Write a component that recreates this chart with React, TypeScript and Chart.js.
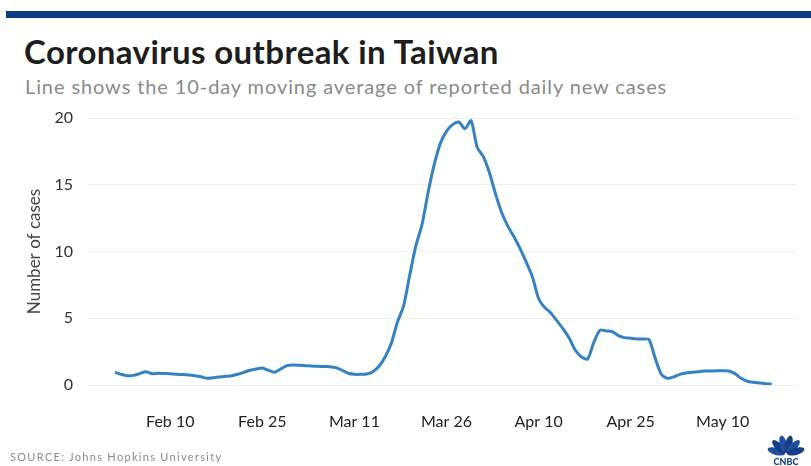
import React, { useEffect, useRef } from "react";
import { Chart, registerables } from "chart.js";

Chart.register(...registerables);

// Day index 0 = Feb 1, 2020; one value per day through May 18.
const START_LABEL = "Feb 1";
const MOVING_AVG: number[] = [
  0.95, 0.8, 0.7, 0.72, 0.85, 1.0, 0.85, 0.88, 0.86, 0.84,
  0.8, 0.78, 0.75, 0.7, 0.62, 0.5, 0.55, 0.6, 0.65, 0.7,
  0.8, 0.95, 1.1, 1.2, 1.27, 1.1, 0.95, 1.2, 1.45, 1.5,
  1.48, 1.45, 1.42, 1.4, 1.38, 1.37, 1.3, 1.1, 0.88, 0.8,
  0.8, 0.83, 1.0, 1.4, 2.1, 3.1, 4.7, 5.9, 8.2, 10.4,
  12.0, 14.4, 16.5, 18.1, 19.0, 19.5, 19.7, 19.2, 19.8, 17.8,
  17.1, 15.9, 14.3, 12.9, 11.9, 11.1, 10.2, 9.2, 8.1, 6.5,
  5.8, 5.4, 4.8, 4.2, 3.5, 2.6, 2.1, 1.95, 3.2, 4.1,
  4.05, 4.0, 3.7, 3.55, 3.5, 3.45, 3.45, 3.4, 2.0, 0.8,
  0.5, 0.6, 0.8, 0.9, 0.95, 1.0, 1.05, 1.05, 1.06, 1.06,
  1.05, 0.85, 0.5, 0.28, 0.2, 0.15, 0.1, 0.05,
];

// Dated x-axis ticks (day index from Feb 1) and their labels.
const TICK_DAYS: number[] = [9, 24, 39, 54, 69, 84, 99];
const TICK_LABELS: string[] = ["Feb 10", "Feb 25", "Mar 11", "Mar 26", "Apr 10", "Apr 25", "May 10"];
const Y_TICKS: number[] = [0, 5, 10, 15, 20];

const TITLE = "Coronavirus outbreak in Taiwan";
const SUBTITLE = "Line shows the 10-day moving average of reported daily new cases";
const SOURCE = "SOURCE: Johns Hopkins University";

const FONT = "Lato, 'Open Sans', sans-serif";

function Peacock() {
  const feathers = [-75, -45, -15, 15, 45, 75];
  return (
    <svg width={46} height={36} viewBox="0 0 46 36" style={{ position: "absolute", left: 763, top: 431 }}>
      {feathers.map((a, i) => (
        <ellipse
          key={i}
          cx={23}
          cy={13}
          rx={3.6}
          ry={9}
          fill={i % 2 === 0 ? "#1f4f9e" : "#163d85"}
          transform={`rotate(${a} 23 23)`}
        />
      ))}
      <text x={23} y={34} textAnchor="middle" fontFamily={FONT} fontWeight={900} fontSize={9} fill="#163d85">
        CNBC
      </text>
    </svg>
  );
}

export default function App() {
  const canvasRef = useRef<HTMLCanvasElement | null>(null);

  useEffect(() => {
    if (!canvasRef.current) return;
    const chart = new Chart(canvasRef.current, {
      type: "line",
      data: {
        datasets: [
          {
            label: `10-day moving average from ${START_LABEL}`,
            data: MOVING_AVG.map((v, i) => ({ x: i, y: v })),
            borderColor: "#3482c3",
            borderWidth: 3,
            pointRadius: 0,
            tension: 0.25,
            fill: false,
          },
        ],
      },
      options: {
        responsive: false,
        animation: false,
        layout: { padding: { left: 24, right: 14, top: 118, bottom: 36 } },
        plugins: { legend: { display: false }, tooltip: { enabled: false } },
        scales: {
          x: {
            type: "linear",
            min: -4.56,
            max: 111.1,
            grid: { display: false },
            border: { display: false },
            afterBuildTicks: (scale: any) => {
              scale.ticks = TICK_DAYS.map((v) => ({ value: v }));
            },
            afterFit: (scale: any) => {
              scale.height = 45;
            },
            ticks: {
              autoSkip: false,
              maxRotation: 0,
              padding: 19,
              color: "#222",
              font: { family: FONT, size: 16 },
              callback: (value: any) => {
                const idx = TICK_DAYS.indexOf(Number(value));
                return idx >= 0 ? TICK_LABELS[idx] : "";
              },
            },
          },
          y: {
            min: 0,
            max: 20,
            afterBuildTicks: (scale: any) => {
              scale.ticks = Y_TICKS.map((v) => ({ value: v }));
            },
            afterFit: (scale: any) => {
              scale.width = 63;
            },
            grid: { color: "#efefef", lineWidth: 1, drawTicks: false },
            border: { display: false },
            title: {
              display: true,
              text: "Number of cases",
              color: "#444",
              font: { family: FONT, size: 17 },
              padding: 0,
            },
            ticks: {
              padding: 14,
              color: "#333",
              font: { family: FONT, size: 16 },
            },
          },
        },
      },
    });
    return () => chart.destroy();
  }, []);

  return (
    <div
      style={{
        position: "absolute",
        left: 0,
        top: 0,
        width: 811,
        height: 466,
        background: "#fff",
        overflow: "hidden",
        fontFamily: FONT,
      }}
    >
      <div style={{ position: "absolute", left: 6, top: 11, width: 805, height: 7, background: "#0b3b82" }} />
      <div
        style={{
          position: "absolute",
          left: 24,
          top: 31,
          fontSize: 33,
          fontWeight: 700,
          color: "#1e1e1e",
          whiteSpace: "nowrap",
          lineHeight: "40px",
          letterSpacing: 0.4,
        }}
      >
        {TITLE}
      </div>
      <div
        style={{
          position: "absolute",
          left: 25,
          top: 74,
          fontSize: 20,
          color: "#8a8a8a",
          whiteSpace: "nowrap",
          lineHeight: "24px",
          letterSpacing: 0.9,
        }}
      >
        {SUBTITLE}
      </div>
      <canvas
        ref={canvasRef}
        width={811}
        height={466}
        style={{ position: "absolute", left: 0, top: 0, width: 811, height: 466 }}
      />
      <div
        style={{
          position: "absolute",
          left: 10,
          top: 451,
          fontSize: 11,
          color: "#8a8a8a",
          whiteSpace: "nowrap",
          lineHeight: "12px",
          letterSpacing: 1.3,
        }}
      >
        {SOURCE}
      </div>
      <Peacock />
    </div>
  );
}
